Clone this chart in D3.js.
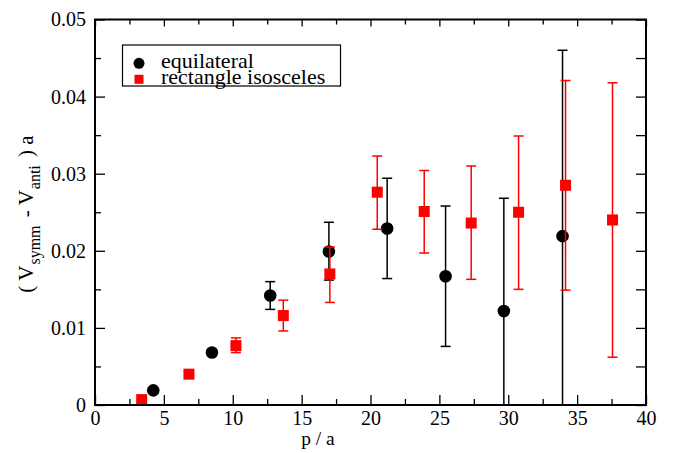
<!DOCTYPE html>
<html>
<head>
<meta charset="utf-8">
<script src="https://cdn.jsdelivr.net/npm/d3@7"></script>
</head>
<body style="margin:0; background:#fff">
<svg id="chart" width="688" height="453"></svg>
<script>
// equilateral series
const eqX  = [4.23, 8.49, 12.72, 16.98, 21.21, 25.45, 29.68, 33.94];
const eqY  = [0.0019, 0.0068, 0.0142, 0.0199, 0.0229, 0.0167, 0.0122, 0.0219];
const eqLo = [0.0016, 0.0064, 0.0124, 0.0162, 0.0164, 0.0076, -0.003, -0.002];
const eqHi = [0.0022, 0.0072, 0.0160, 0.0237, 0.0294, 0.0258, 0.0268, 0.0460];

// rectangle isosceles series
const rectX  = [3.39, 6.82, 10.23, 13.67, 17.05, 20.49, 23.9, 27.31, 30.75, 34.16, 37.57];
const rectY  = [0.0007, 0.0040, 0.0077, 0.0116, 0.0170, 0.0276, 0.0251, 0.0236, 0.0250, 0.0285, 0.0240];
const rectLo = [0.0005, 0.0037, 0.0068, 0.0096, 0.0133, 0.0228, 0.0197, 0.0163, 0.0150, 0.0149, 0.0062];
const rectHi = [0.0009, 0.0043, 0.0087, 0.0136, 0.0205, 0.0323, 0.0304, 0.0310, 0.0349, 0.0421, 0.0418];

const xMajor = [0, 5, 10, 15, 20, 25, 30, 35, 40];
const xMinor = [2.5, 7.5, 12.5, 17.5, 22.5, 27.5, 32.5, 37.5];
const yMajor = [0, 0.01, 0.02, 0.03, 0.04, 0.05];
const yMinor = [0.005, 0.015, 0.025, 0.035, 0.045];

const FONT = "Liberation Serif";
const margin = {left: 95, right: 42, top: 19.5, bottom: 48};
const W = 688, H = 453;

const svg = d3.select("#chart").attr("font-family", FONT);

let x = d3.scaleLinear().domain([0, 40]).range([margin.left, W - margin.right]);
let y = d3.scaleLinear().domain([0, 0.05]).range([H - margin.bottom, margin.top]);

const fmtY = d => d === 0 ? "0" : d.toFixed(2);

// axes, ticks pointing inward on all four sides
function addAxis(axis, transform) {
  let g = svg.append("g").attr("transform", transform).call(axis);
  g.attr("font-family", FONT).attr("font-size", 20);
  g.select(".domain").remove();
  g.selectAll(".tick line").attr("stroke", "#000").attr("stroke-width", 1.3);
  g.selectAll(".tick text").attr("fill", "#000");
  return g;
}
addAxis(d3.axisBottom(x).tickValues(xMajor).tickSize(-10).tickPadding(6), `translate(0,${y(0)})`);
addAxis(d3.axisBottom(x).tickValues(xMinor).tickSize(-6).tickFormat(""), `translate(0,${y(0)})`);
addAxis(d3.axisTop(x).tickValues(xMajor).tickSize(-7).tickFormat(""), `translate(0,${y(0.05)})`);
addAxis(d3.axisTop(x).tickValues(xMinor).tickSize(-5).tickFormat(""), `translate(0,${y(0.05)})`);
addAxis(d3.axisLeft(y).tickValues(yMajor).tickSize(-10).tickPadding(9).tickFormat(fmtY), `translate(${x(0)},0)`);
addAxis(d3.axisLeft(y).tickValues(yMinor).tickSize(-6).tickFormat(""), `translate(${x(0)},0)`);
addAxis(d3.axisRight(y).tickValues(yMajor.concat(yMinor)).tickSize(-10).tickFormat(""), `translate(${x(40)},0)`);

svg.append("clipPath").attr("id", "plotclip")
  .append("rect")
  .attr("x", x(0)).attr("y", y(0.05))
  .attr("width", x(40) - x(0)).attr("height", y(0) - y(0.05));

const plot = svg.append("g").attr("clip-path", "url(#plotclip)");

function drawErrors(xs, lo, hi, color) {
  let g = plot.append("g").attr("stroke", color).attr("stroke-width", 1.5).attr("fill", "none");
  xs.forEach((v, i) => {
    g.append("line").attr("x1", x(v)).attr("x2", x(v)).attr("y1", y(lo[i])).attr("y2", y(hi[i]));
    g.append("line").attr("x1", x(v) - 5).attr("x2", x(v) + 5).attr("y1", y(lo[i])).attr("y2", y(lo[i]));
    g.append("line").attr("x1", x(v) - 5).attr("x2", x(v) + 5).attr("y1", y(hi[i])).attr("y2", y(hi[i]));
  });
}

drawErrors(eqX, eqLo, eqHi, "#000");
plot.append("g").selectAll("circle")
  .data(eqX)
  .enter()
  .append("circle")
  .attr("cx", d => x(d))
  .attr("cy", (d, i) => y(eqY[i]))
  .attr("r", 6.3)
  .attr("fill", "#000");

drawErrors(rectX, rectLo, rectHi, "#ff0000");
plot.append("g").selectAll("rect")
  .data(rectX)
  .enter()
  .append("rect")
  .attr("x", d => x(d) - 5.5)
  .attr("y", (d, i) => y(rectY[i]) - 5.5)
  .attr("width", 11)
  .attr("height", 11)
  .attr("fill", "#ff0000");

// frame
svg.append("rect")
  .attr("x", x(0)).attr("y", y(0.05))
  .attr("width", x(40) - x(0)).attr("height", y(0) - y(0.05))
  .attr("fill", "none").attr("stroke", "#000").attr("stroke-width", 2);

// legend
const leg = svg.append("g");
leg.append("rect")
  .attr("x", 122.5).attr("y", 45).attr("width", 218).attr("height", 41)
  .attr("fill", "#fff").attr("stroke", "#000").attr("stroke-width", 1.2);
leg.append("circle").attr("cx", 139).attr("cy", 63.3).attr("r", 5.5).attr("fill", "#000");
leg.append("rect").attr("x", 134.5).attr("y", 74.8).attr("width", 9).attr("height", 9).attr("fill", "#ff0000");
leg.append("text").attr("x", 161).attr("y", 68.3).attr("font-size", 22).text("equilateral");
leg.append("text").attr("x", 161).attr("y", 83.5).attr("font-size", 22).text("rectangle isosceles");

// axis titles
svg.append("text")
  .attr("x", 318).attr("y", 445)
  .attr("text-anchor", "middle")
  .attr("font-size", 19.5)
  .text("p / a");

const yl = svg.append("text")
  .attr("transform", `translate(33,214) rotate(-90)`)
  .attr("text-anchor", "middle")
  .attr("font-size", 21);
yl.append("tspan").text("( V");
yl.append("tspan").attr("font-size", 16).attr("dy", 7).attr("dx", 1).text("symm");
yl.append("tspan").attr("dy", -7).attr("dx", 3).text(" - V");
yl.append("tspan").attr("font-size", 16).attr("dy", 7).attr("dx", 1).text("anti");
yl.append("tspan").attr("dy", -7).attr("dx", 3).text(" ) a");
</script>
</body>
</html>
